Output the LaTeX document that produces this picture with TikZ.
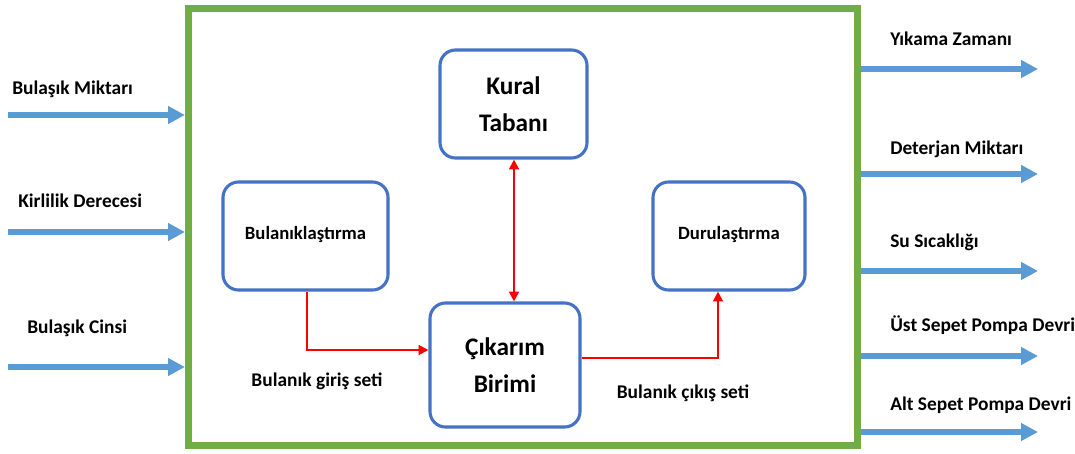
\documentclass[tikz,border=0pt]{standalone}
\usepackage{fontspec}
\setmainfont{Carlito}
\usetikzlibrary{arrows.meta}

\tikzset{
  blok/.style={draw=boxblue, line width=2.2pt, rounded corners=11pt, fill=white,
    align=center, font=\bfseries\fontsize{13.3}{15}\selectfont},
  anablok/.style={blok, font=\bfseries\fontsize{18}{26}\selectfont},
  akis/.style={red, line width=1.5pt, -{Triangle[length=7pt,width=7pt]}},
  giris/.style={inblue, line width=3.6pt, -{Triangle[length=12pt,width=12pt]}},
  etiket/.style={font=\bfseries\fontsize{13.8}{16}\selectfont, anchor=base west, inner sep=0pt}
}

\begin{document}
\begin{tikzpicture}[x=0.025cm, y=-0.025cm]
    % Define colors
    \definecolor{framegreen}{RGB}{112,173,71}
    \definecolor{boxblue}{RGB}{68,114,196}
    \definecolor{inblue}{RGB}{91,155,213}

    \useasboundingbox (0,0) rectangle (1075,453);

    % Outer system frame
    \node[draw=framegreen, line width=5pt, minimum width=669*0.025cm,
      minimum height=437*0.025cm, inner sep=0pt] (sys) at (523,227) {};

    % Inner blocks
    \node[anablok, minimum width=147*0.025cm, minimum height=108*0.025cm] (kural) at (513.5,104) {Kural\\Taban\i};
    \node[blok, minimum width=165*0.025cm, minimum height=108*0.025cm] (bulan) at (305.5,236) {\raisebox{4pt}{Bulan\i kla\c{s}t\i rma}};
    \node[blok, minimum width=152*0.025cm, minimum height=108*0.025cm] (durul) at (729,236) {\raisebox{4pt}{Durula\c{s}t\i rma}};
    \node[anablok, minimum width=150*0.025cm, minimum height=124*0.025cm] (cikarim) at (505,365) {\c{C}\i kar\i m\\Birimi};

    % Red connections
    \draw[akis, {Triangle[length=7pt,width=7pt]}-{Triangle[length=7pt,width=7pt]}]
      (kural.south -| 514,0) -- (cikarim.north -| 514,0);
    \draw[akis] (bulan.south -| 307,0) |- (cikarim.west |- 0,350);
    \draw[akis] (cikarim.east |- 0,358) -| (durul.south -| 718,0);

    % Labels under the connections
    \node[font=\bfseries\fontsize{13.8}{16}\selectfont] (girisset) at (317,381) {Bulan\i k giri\c{s} seti};
    \node[font=\bfseries\fontsize{13.8}{16}\selectfont] (cikisset) at (683,393) {Bulan\i k \c{c}\i k\i\c{s} seti};

    % Inputs
    \foreach \y/\lx/\ly/\txt/\nm in {115/12/94/{Bula\c{s}\i k Miktar\i}/a,
                                  232/18/207/{Kirlilik Derecesi}/b,
                                  367/27/333/{Bula\c{s}\i k Cinsi}/c} {
        \coordinate (in\nm) at (8,\y);
        \node[etiket] (inlbl\nm) at (\lx,\ly) {\txt};
        \draw[giris] (in\nm) -- (sys.west |- in\nm);
    }

    % Outputs
    \foreach \y/\ly/\txt/\nm in {69/46/{Y\i kama Zaman\i}/a,
                              174/154/{Deterjan Miktar\i}/b,
                              271/247/{Su S\i cakl\i\u{g}\i}/c,
                              356/331/{\"Ust Sepet Pompa Devri}/d,
                              432/410/{Alt Sepet Pompa Devri}/e} {
        \coordinate (out\nm) at (1038,\y);
        \node[etiket] (outlbl\nm) at (890,\ly) {\txt};
        \draw[giris] (sys.east |- out\nm) -- (out\nm);
    }

\end{tikzpicture}
\end{document}
